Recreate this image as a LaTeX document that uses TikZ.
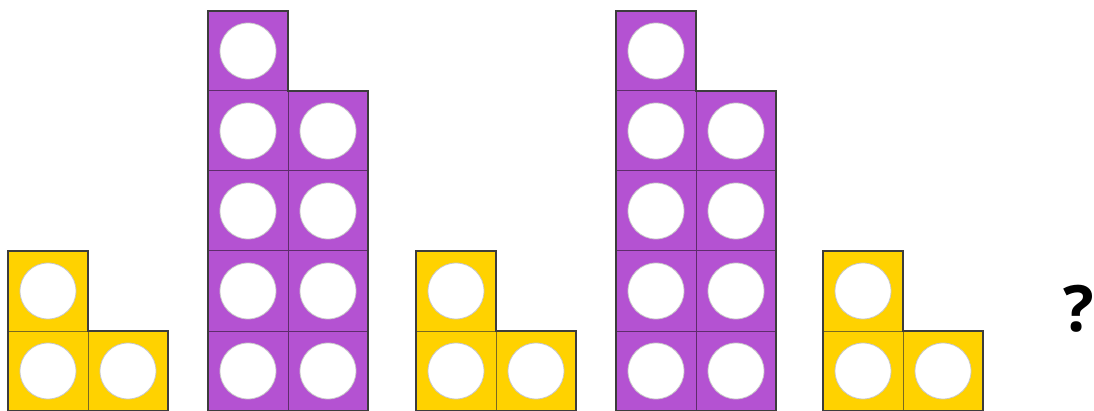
\documentclass[tikz,border=0pt]{standalone}
\usepackage{fontspec}
\setmainfont{Open Sans}
\definecolor{yel}{HTML}{FFD200}
\definecolor{yelline}{HTML}{7A6A20}
\definecolor{pur}{HTML}{B452D2}
\definecolor{purline}{HTML}{5E2C6C}
\definecolor{outl}{HTML}{3C3C3C}
\definecolor{holeline}{HTML}{C8C8C8}
\tikzset{
  ycell/.style={fill=yel,draw=yelline,line width=1pt},
  pcell/.style={fill=pur,draw=purline,line width=1pt},
  hole/.style={fill=white,draw=holeline,line width=0.8pt},
  outline/.style={draw=outl,line width=2pt,line join=miter},
}
\begin{document}
\begin{tikzpicture}[x=1pt,y=-1pt]
\useasboundingbox (0,0) rectangle (1094,411);
% yellow L shapes
\foreach \x in {8,416,823}{
  \foreach \c/\r in {0/251,0/331,80/331}{
    \draw[ycell] (\x+\c,\r) rectangle ++(80,80);
    \draw[hole] (\x+\c+40,\r+40) circle (28);
  }
  \draw[outline] (\x,251) -- ++(80,0) -- ++(0,80) -- ++(80,0) -- ++(0,80) -- ++(-160,0) -- cycle;
}
% purple shapes
\foreach \x in {208,616}{
  \draw[pcell] (\x,11) rectangle ++(80,80);
  \draw[hole] (\x+40,51) circle (28);
  \foreach \r in {91,171,251,331}{
    \foreach \c in {0,80}{
      \draw[pcell] (\x+\c,\r) rectangle ++(80,80);
      \draw[hole] (\x+\c+40,\r+40) circle (28);
    }
  }
  \draw[outline] (\x,11) -- ++(80,0) -- ++(0,80) -- ++(80,0) -- ++(0,320) -- ++(-160,0) -- cycle;
}
\node[font=\fontsize{64}{64}\selectfont\bfseries, inner sep=0pt] (q) at (1079,309) {?};
\end{tikzpicture}
\end{document}
